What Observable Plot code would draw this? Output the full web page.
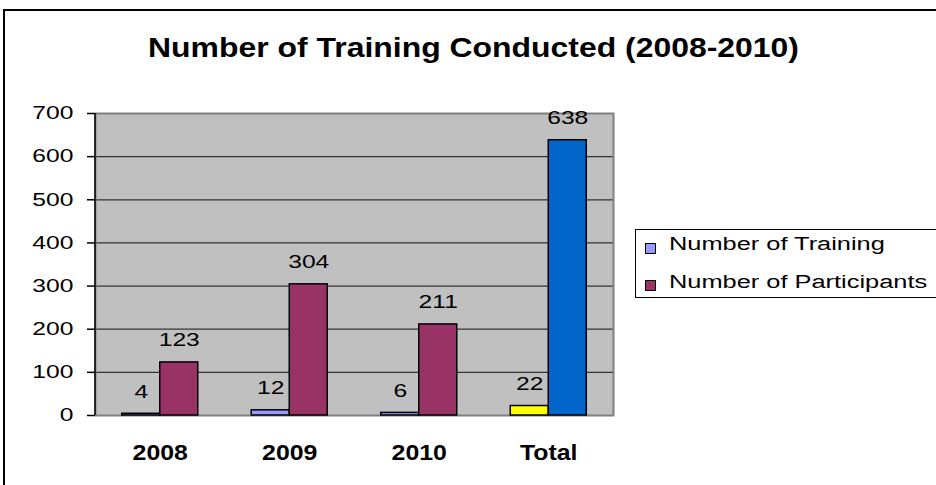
<!DOCTYPE html>
<html>
<head>
<meta charset="utf-8">
<script src="https://cdn.jsdelivr.net/npm/d3@7"></script>
<script src="https://cdn.jsdelivr.net/npm/@observablehq/plot@0.6"></script>
<style>
html, body { margin: 0; padding: 0; background: #fff; overflow: hidden; }
#wrap { position: relative; width: 936px; height: 485px; overflow: hidden; font-family: "Liberation Sans", Arial, sans-serif; color: #000; }
#chart { position: absolute; left: 0; top: 0; }
#border { position: absolute; left: 3px; top: 9px; width: 1000px; height: 1000px; border: 2px solid #000; box-sizing: border-box; }
#title { position: absolute; left: 0; width: 947px; top: 34px; text-align: center; font-weight: bold; font-size: 28px; line-height: 28px; transform: scaleX(1.14); transform-origin: 473.5px 0; white-space: nowrap; }
#legend { position: absolute; left: 635px; top: 229px; width: 330px; height: 69px; border: 1px solid #000; box-sizing: border-box; background: #fff; }
.sw { position: absolute; width: 11px; height: 11px; border: 1px solid #000; box-sizing: border-box; }
.lt { position: absolute; font-size: 18px; line-height: 18px; white-space: nowrap; transform: scaleX(1.41); transform-origin: 0 0; }
</style>
</head>
<body>
<div id="wrap">
  <div id="border"></div>
  <div id="chart"></div>
  <div id="title"></div>
  <div id="legend"></div>
</div>
<script>
// ---- data ----
const title = "Number of Training Conducted (2008-2010)";
const categories = ["2008", "2009", "2010", "Total"];
const training = [4, 12, 6, 22];
const participants = [123, 304, 211, 638];
const seriesNames = ["Number of Training", "Number of Participants"];
const yTicks = [0, 100, 200, 300, 400, 500, 600, 700];

// ---- styles ----
const seriesColors = ["#9999FF", "#993366"];
const totalColors = ["#FFFF00", "#0066CC"];
const font = "'Liberation Sans', Arial, sans-serif";

const rows = categories.map((c, i) => ({category: c, training: training[i], participants: participants[i]}));

const leftAxisLine = (index, scales, values, dimensions) => {
  const {marginLeft, marginTop, marginBottom, height} = dimensions;
  const line = document.createElementNS("http://www.w3.org/2000/svg", "line");
  line.setAttribute("x1", marginLeft);
  line.setAttribute("x2", marginLeft);
  line.setAttribute("y1", marginTop);
  line.setAttribute("y2", height - marginBottom);
  line.setAttribute("stroke", "#000");
  line.setAttribute("stroke-width", 1.5);
  return line;
};

const plot = Plot.plot({
  width: 936,
  height: 485,
  marginLeft: 95,
  marginRight: 323,
  marginTop: 113,
  marginBottom: 70,
  style: {fontFamily: font, fontSize: "18px", color: "#000", background: "transparent", overflow: "visible"},
  x: {domain: categories, paddingInner: 0.7066, paddingOuter: 0.3533, align: 0.5, round: false, label: null},
  y: {domain: [0, 700], ticks: yTicks, label: null},
  marks: [
    Plot.frame({fill: "#c0c0c0", stroke: null}),
    Plot.gridY(yTicks, {stroke: "#333", strokeOpacity: 1, strokeWidth: 1.2}),
    Plot.frame({stroke: "#808080", strokeWidth: 2}),
    Plot.barY(rows, {x: "category", y: "training", dx: -19,
      fill: d => d.category === "Total" ? totalColors[0] : seriesColors[0], stroke: "#000", strokeWidth: 1.5}),
    Plot.barY(rows, {x: "category", y: "participants", dx: 19,
      fill: d => d.category === "Total" ? totalColors[1] : seriesColors[1], stroke: "#000", strokeWidth: 1.5}),
    Plot.text(rows, {x: "category", y: "training", text: d => String(d.training), dx: -19, dy: -16, lineAnchor: "bottom", fontSize: 18}),
    Plot.text(rows, {x: "category", y: "participants", text: d => String(d.participants), dx: 19, dy: -16, lineAnchor: "bottom", fontSize: 18}),
    leftAxisLine,
    Plot.axisY(yTicks, {tickSize: 8, tickPadding: 14, fontSize: 18, stroke: "#000", strokeWidth: 1.5, label: null}),
    Plot.axisX({tickSize: 0, tickPadding: 29, fontSize: 22, fontWeight: "bold", label: null})
  ]
});

document.getElementById("chart").appendChild(plot);

// horizontal stretch of text glyphs about each text's own anchor, as in the reference picture
plot.querySelectorAll("text").forEach(t => {
  const bold = parseInt(getComputedStyle(t).fontWeight, 10) >= 600;
  const s = bold ? 1.13 : 1.37;
  const x = parseFloat(t.getAttribute("x")) || 0;
  const tr = t.getAttribute("transform") || "";
  t.setAttribute("transform", `${tr} translate(${x},0) scale(${s},1) translate(${-x},0)`.trim());
});

document.getElementById("title").textContent = title;

const legend = document.getElementById("legend");
seriesNames.forEach((name, i) => {
  const sw = document.createElement("div");
  sw.className = "sw";
  sw.style.left = "9px";
  sw.style.top = (13 + i * 37) + "px";
  sw.style.background = seriesColors[i];
  legend.appendChild(sw);
  const lt = document.createElement("div");
  lt.className = "lt";
  lt.style.left = "33px";
  lt.style.top = (5 + i * 38) + "px";
  lt.textContent = name;
  legend.appendChild(lt);
});
</script>
</body>
</html>
